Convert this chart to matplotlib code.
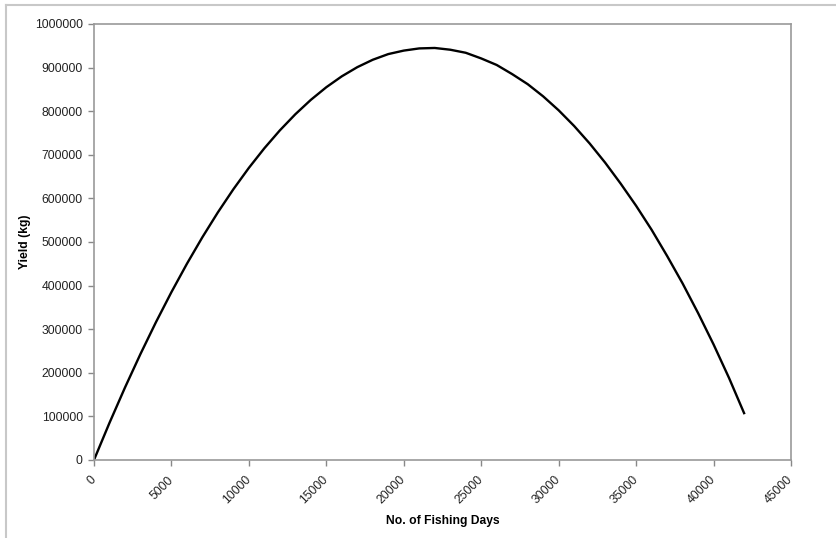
import matplotlib.pyplot as plt
from matplotlib.lines import Line2D

plt.rcParams['font.family'] = ['Liberation Sans', 'DejaVu Sans']

# fishing effort (days) and yield (kg)
fishing_days = list(range(0, 42001, 1000))
yield_kg = [0, 85000, 166000, 243000, 316000, 385000, 450000, 511000, 568000,
            621000, 670000, 715000, 756000, 793000, 826000, 855000, 880000,
            901000, 918000, 931000, 939000, 944000, 945000, 941000, 934000,
            921000, 906000, 885000, 862000, 834000, 802000, 766000, 726000,
            682000, 634000, 583000, 528000, 468000, 405000, 337000, 265000,
            188000, 105000]

x_ticks = list(range(0, 45001, 5000))
y_ticks = list(range(0, 1000001, 100000))

fig = plt.figure(figsize=(8.36, 5.38), dpi=100)
ax = fig.add_axes([0.1124, 0.145, 0.8338, 0.8104])

ax.plot(fishing_days, yield_kg, color="black", lw=1.7,
        solid_capstyle="butt", solid_joinstyle="round")

ax.set_xlim(0, 45000)
ax.set_ylim(0, 1000000)
ax.set_xticks(x_ticks)
ax.set_yticks(y_ticks)
ax.set_xticklabels([str(t) for t in x_ticks], rotation=45, ha="right",
                   va="center", rotation_mode="anchor", fontsize=8.7,
                   color="#222222")
ax.set_yticklabels([str(t) for t in y_ticks], fontsize=8.7, color="#222222")
ax.tick_params(axis="both", length=4, width=1, color="#888888", direction="out")
ax.tick_params(axis="x", pad=9)
ax.tick_params(axis="y", pad=4)

for s in ax.spines.values():
    s.set_color("#999999")
    s.set_linewidth(1.2)

ax.set_xlabel("No. of Fishing Days", fontsize=8.7, fontweight="bold", labelpad=6)
ax.set_ylabel("Yield (kg)", fontsize=8.7, fontweight="bold", labelpad=3)

# outer chart frame (top and left edges visible)
fig.add_artist(Line2D([6 / 836, 1], [1 - 5 / 538, 1 - 5 / 538],
                      transform=fig.transFigure, color="#c8c8c8", lw=1.5))
fig.add_artist(Line2D([6 / 836, 6 / 836], [0, 1 - 5 / 538],
                      transform=fig.transFigure, color="#c8c8c8", lw=1.5))

fig.savefig("out.png", dpi=100)
